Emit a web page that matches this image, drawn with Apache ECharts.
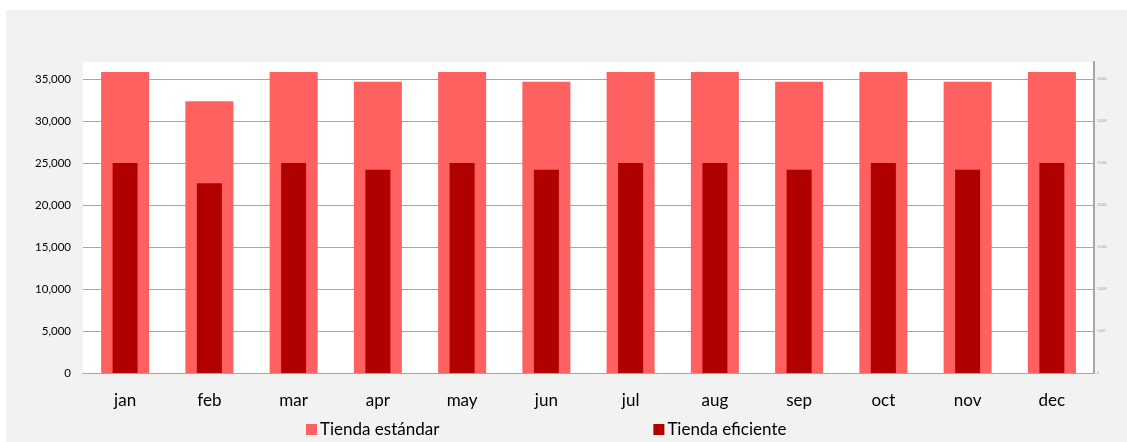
<!DOCTYPE html>
<html>
<head>
<meta charset="utf-8">
<script src="https://cdn.jsdelivr.net/npm/echarts@6/dist/echarts.min.js"></script>
<style>
  html, body { margin: 0; padding: 0; background: #fff; }
  #wrap { position: absolute; left: 6px; top: 10px; width: 1121px; height: 432px; background: #f2f2f2; }
  #chart { position: absolute; left: -6px; top: -10px; width: 1127px; height: 442px; }
</style>
</head>
<body>
<div id="wrap"><div id="chart"></div></div>
<script>
// months and monthly values
const months = ['jan', 'feb', 'mar', 'apr', 'may', 'jun', 'jul', 'aug', 'sep', 'oct', 'nov', 'dec'];
const standard = [35800, 32340, 35800, 34650, 35800, 34650, 35800, 35800, 34650, 35800, 34650, 35800];
const efficient = [24990, 22570, 24990, 24180, 24990, 24180, 24990, 24990, 24180, 24990, 24180, 24990];
const seriesNames = ['Tienda estándar', 'Tienda eficiente'];

const chart = echarts.init(document.getElementById('chart'));

// last line sits on the top edge of the plot, keep it invisible
const gridColors = ['#a6a6a6', '#a6a6a6', '#a6a6a6', '#a6a6a6', '#a6a6a6', '#a6a6a6', '#a6a6a6', '#a6a6a6', '#ffffff'];
const fmt = (v) => v.toLocaleString('en-US');

const option = {
  animation: false,
  textStyle: { fontFamily: 'Lato, Open Sans, sans-serif' },
  grid: {
    left: 83,
    right: 33,
    top: 62,
    bottom: 69,
    show: true,
    backgroundColor: '#ffffff',
    borderWidth: 0,
    outerBoundsMode: 'none',
  },
  legend: {
    left: 306,
    top: 421,
    padding: 0,
    itemWidth: 11,
    itemHeight: 11,
    itemGap: 214,
    icon: 'rect',
    textStyle: { fontSize: 17, color: '#000', padding: [0, 0, 0, -2] },
    data: seriesNames,
  },
  xAxis: [
    {
      type: 'category',
      data: months,
      axisLine: { lineStyle: { color: '#a6a6a6', width: 1 } },
      axisTick: { show: false },
      axisLabel: { fontSize: 17, color: '#000', margin: 19 },
    },
    {
      type: 'category',
      data: months,
      show: false,
    },
  ],
  yAxis: [
    {
      type: 'value',
      min: 0,
      max: 37000,
      interval: 5000,
      axisLine: { show: false },
      axisTick: { show: false },
      axisLabel: { fontSize: 11.5, color: '#000', margin: 12, showMaxLabel: false, formatter: fmt },
      splitLine: { lineStyle: { color: gridColors, width: 1 } },
    },
    {
      type: 'value',
      position: 'right',
      min: 0,
      max: 37000,
      interval: 5000,
      axisLine: { show: true, lineStyle: { color: '#a6a6a6', width: 2 } },
      axisTick: { show: false },
      axisLabel: { fontSize: 3, color: '#999', margin: 3, showMaxLabel: false, formatter: fmt },
      splitLine: { show: false },
    },
  ],
  series: [
    {
      name: seriesNames[0],
      type: 'bar',
      xAxisIndex: 0,
      data: standard,
      barWidth: 48,
      itemStyle: { color: '#ff6161' },
    },
    {
      name: seriesNames[1],
      type: 'bar',
      xAxisIndex: 1,
      data: efficient,
      barWidth: 25,
      itemStyle: { color: '#b00000' },
    },
  ],
};

chart.setOption(option);
</script>
</body>
</html>
